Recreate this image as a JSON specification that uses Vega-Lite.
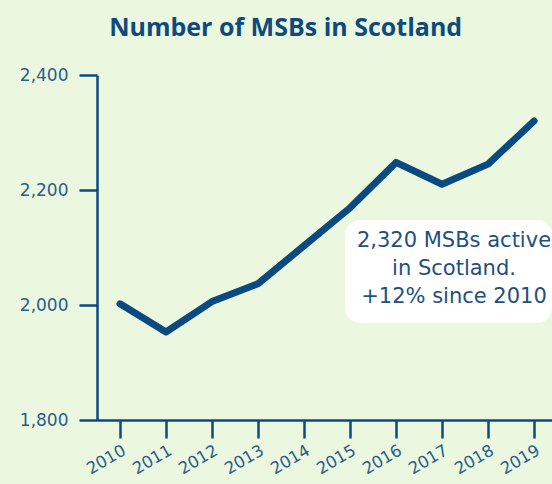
{
  "$schema": "https://vega.github.io/schema/vega-lite/v6.json",
  "autosize": "none",
  "width": 455,
  "height": 345,
  "padding": {"left": 97, "top": 75, "right": 0, "bottom": 64},
  "background": "#ebf8df",
  "config": {"view": {"stroke": null}, "font": "DejaVu Sans"},
  "title": {
    "text": "Number of MSBs in Scotland",
    "fontSize": 25,
    "fontWeight": "bold",
    "color": "#0f4a7e",
    "font": "Open Sans",
    "anchor": "middle",
    "frame": "bounds",
    "offset": 25
  },
  "datasets": {
    "series": [
      {"year": 2010, "msbs": 2002},
      {"year": 2011, "msbs": 1953},
      {"year": 2012, "msbs": 2006},
      {"year": 2013, "msbs": 2037},
      {"year": 2014, "msbs": 2103},
      {"year": 2015, "msbs": 2169},
      {"year": 2016, "msbs": 2248},
      {"year": 2017, "msbs": 2210},
      {"year": 2018, "msbs": 2245},
      {"year": 2019, "msbs": 2320}
    ],
    "box": [
      {"x1": 2014.89, "x2": 2019.39, "y1": 2148, "y2": 1969}
    ],
    "note": [
      {"x": 2017.26, "y": 2111, "label": "2,320 MSBs active\nin Scotland.\n+12% since 2010"}
    ]
  },
  "layer": [
    {
      "data": {"name": "series"},
      "mark": {"type": "line", "color": "#0b4a80", "strokeWidth": 7, "strokeCap": "round", "strokeJoin": "round"},
      "encoding": {
        "x": {
          "field": "year",
          "type": "quantitative",
          "scale": {"domain": [2009.5, 2019.39], "nice": false, "zero": false},
          "axis": {
            "values": [2010, 2011, 2012, 2013, 2014, 2015, 2016, 2017, 2018, 2019],
            "format": "d",
            "title": null,
            "grid": false,
            "domainColor": "#0b4a80",
            "domainWidth": 2.5,
            "tickColor": "#0b4a80",
            "tickWidth": 2.5,
            "tickSize": 18,
            "labelAngle": -30,
            "labelAlign": "right",
            "labelBaseline": "top",
            "labelPadding": 4,
            "labelFontSize": 16.5,
            "labelColor": "#2a5c8c",
            "labelFont": "DejaVu Sans",
            "labelFlush": false,
            "labelOverlap": false
          }
        },
        "y": {
          "field": "msbs",
          "type": "quantitative",
          "scale": {"domain": [1800, 2400], "nice": false, "zero": false},
          "axis": {
            "values": [1800, 2000, 2200, 2400],
            "format": ",d",
            "title": null,
            "grid": false,
            "domainColor": "#0b4a80",
            "domainWidth": 2.5,
            "tickColor": "#0b4a80",
            "tickWidth": 2.5,
            "tickSize": 18,
            "labelPadding": 11,
            "labelFontSize": 17,
            "labelColor": "#2a5c8c",
            "labelFont": "DejaVu Sans",
            "labelFlush": false
          }
        }
      }
    },
    {
      "data": {"name": "box"},
      "mark": {"type": "rect", "color": "#ffffff", "cornerRadius": 15, "clip": true},
      "encoding": {
        "x": {"field": "x1", "type": "quantitative"},
        "x2": {"field": "x2"},
        "y": {"field": "y1", "type": "quantitative"},
        "y2": {"field": "y2"}
      }
    },
    {
      "data": {"name": "note"},
      "mark": {"type": "text", "lineBreak": "\n", "lineHeight": 28, "fontSize": 21, "color": "#1f4f80", "font": "DejaVu Sans", "align": "center", "baseline": "middle"},
      "encoding": {
        "x": {"field": "x", "type": "quantitative"},
        "y": {"field": "y", "type": "quantitative"},
        "text": {"field": "label"}
      }
    }
  ]
}
